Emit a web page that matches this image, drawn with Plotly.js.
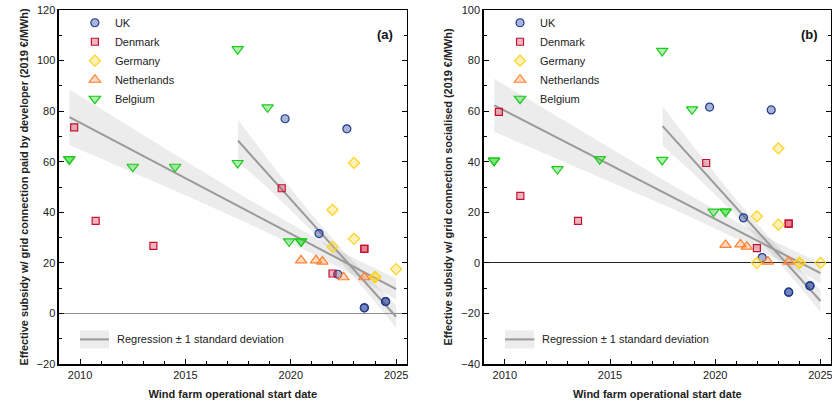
<!DOCTYPE html>
<html><head><meta charset="utf-8">
<script src="https://cdn.plot.ly/plotly-3.0.1.min.js"></script>
<style>html,body{margin:0;padding:0;background:#fff;}#chart{width:832px;height:405px;}</style>
</head><body><div id="chart"></div>
<script>
// ---- data (x = operational start year) ----
const ukX   = [2019.73, 2022.66, 2021.34, 2022.23, 2023.49, 2023.49, 2024.5, 2024.5];
const ukA   = [77, 73, 31.6, 15.5, 2.2, 2.2, 4.7, 4.7];
const ukB   = [61.6, 60.5, 17.8, 2.1, -11.6, -11.6, -9.1, -9.1];
const dkX   = [2009.72, 2010.74, 2013.48, 2019.57, 2021.98, 2023.49, 2023.49];
const dkA   = [73.6, 36.6, 26.7, 49.5, 15.8, 25.5, 25.5];
const dkB   = [59.7, 26.5, 16.6, 39.5, 5.8, 15.5, 15.5];
const deX   = [2023.0, 2021.98, 2021.98, 2023.0, 2024.0, 2024.0, 2025.0];
const deA   = [59.5, 41, 26.3, 29.5, 14.5, 14.3, 17.5];
const deB   = [45.3, 18.4, 0, 15.1, 0, 0, 0];
const nlX   = [2020.49, 2021.2, 2021.5, 2022.5, 2023.49];
const nlA   = [21, 21, 20.5, 14.3, 14.3];
const nlB   = [7.1, 7.3, 6.4, 0.5, 0.5];
const beX   = [2009.49, 2009.49, 2012.5, 2014.51, 2017.48, 2017.48, 2018.9, 2019.92, 2020.49, 2020.49];
const beA   = [61, 61, 58, 58, 104.5, 59.5, 81.5, 28.5, 28.5, 28.5];
const beB   = [40.4, 40.4, 37.1, 41, 83.8, 40.7, 60.7, 20.3, 20.3, 20.3];

// regression lines and ±1 sd bands
const longLineX  = [2009.5, 2025];
const longLineA  = [77.6, 9.6];
const longLineB  = [62.3, -4.1];
const longBandX  = [2009.5, 2012, 2015, 2018, 2021, 2023, 2025];
const longUpA    = [88.6, 75.6, 60.3, 45.1, 30.7, 21.8, 13.8];
const longLoA    = [66.6, 57.6, 46.7, 35.5, 23.7, 15.0, 5.4];
const longUpB    = [72.8, 60.3, 45.2, 30.5, 16.4, 7.8, -0.1];
const longLoB    = [51.8, 42.9, 32.2, 21.3, 9.6, 1.2, -8.1];
const shortLineX = [2017.5, 2025];
const shortLineA = [68.3, -1.3];
const shortLineB = [54.1, -15.1];
const shortBandX = [2017.5, 2019, 2021, 2022.5, 2024, 2025];
const shortUpA   = [76.6, 59.9, 39.0, 24.6, 11.5, 3.2];
const shortLoA   = [60.0, 48.9, 32.6, 19.2, 4.5, -5.8];
const shortUpB   = [61.9, 45.6, 24.9, 10.7, -2.5, -10.8];
const shortLoB   = [46.3, 35.0, 18.7, 5.3, -9.3, -19.4];

const countries = ['UK', 'Denmark', 'Germany', 'Netherlands', 'Belgium'];
const xTicks = [2010, 2015, 2020, 2025];

const FONT = 'Liberation Sans, Arial, sans-serif';
const styles = {
  UK:          {symbol: 'circle',        size: 8,  line: '#1f3b8f', fill: 'rgba(31,59,143,0.38)'},
  Denmark:     {symbol: 'square',        size: 7,  line: '#c8102e', fill: 'rgba(200,16,46,0.3)'},
  Germany:     {symbol: 'diamond',       size: 8.5, line: '#ffd21f', fill: 'rgba(255,210,20,0.3)'},
  Netherlands: {symbol: 'triangle-up',   size: 10, line: '#ff8030', fill: 'rgba(255,128,48,0.3)'},
  Belgium:     {symbol: 'triangle-down', size: 10, line: '#1ccc1c', fill: 'rgba(28,204,28,0.33)'}
};
const seriesA = {UK: [ukX, ukA], Denmark: [dkX, dkA], Germany: [deX, deA], Netherlands: [nlX, nlA], Belgium: [beX, beA]};
const seriesB = {UK: [ukX, ukB], Denmark: [dkX, dkB], Germany: [deX, deB], Netherlands: [nlX, nlB], Belgium: [beX, beB]};

function band(x, up, lo, xa, ya) {
  return {x: x.concat(x.slice().reverse()), y: up.concat(lo.slice().reverse()),
    xaxis: xa, yaxis: ya, mode: 'lines', fill: 'toself', fillcolor: 'rgba(150,150,150,0.18)',
    line: {width: 0}, hoverinfo: 'skip', showlegend: false};
}
function rline(x, y, xa, ya) {
  return {x: x, y: y, xaxis: xa, yaxis: ya, mode: 'lines',
    line: {color: '#9a9a9a', width: 2}, hoverinfo: 'skip', showlegend: false};
}

const traces = [
  band(longBandX, longUpA, longLoA, 'x', 'y'), band(shortBandX, shortUpA, shortLoA, 'x', 'y'),
  rline(longLineX, longLineA, 'x', 'y'), rline(shortLineX, shortLineA, 'x', 'y'),
  band(longBandX, longUpB, longLoB, 'x2', 'y2'), band(shortBandX, shortUpB, shortLoB, 'x2', 'y2'),
  rline(longLineX, longLineB, 'x2', 'y2'), rline(shortLineX, shortLineB, 'x2', 'y2')
];
countries.forEach(c => {
  const s = styles[c];
  traces.push({x: seriesA[c][0], y: seriesA[c][1], xaxis: 'x', yaxis: 'y', mode: 'markers', name: c,
    legend: 'legend',
    marker: {symbol: s.symbol, size: s.size, color: s.fill, line: {color: s.line, width: 1.2}}});
});
countries.forEach(c => {
  const s = styles[c];
  traces.push({x: seriesB[c][0], y: seriesB[c][1], xaxis: 'x2', yaxis: 'y2', mode: 'markers', name: c,
    legend: 'legend2',
    marker: {symbol: s.symbol, size: s.size, color: s.fill, line: {color: s.line, width: 1.2}}});
});

function xax(domain, anchor) {
  return {domain: domain, anchor: anchor, range: [2009, 2025.5], tickvals: xTicks, ticktext: xTicks.map(String),
    ticks: 'inside', ticklen: 5, tickcolor: '#000', showline: true, linecolor: '#000', linewidth: 1.5,
    mirror: true, showgrid: false, zeroline: false, ticklabeloverflow: 'allow',
    minor: {dtick: 1, tick0: 2009, ticks: 'inside', ticklen: 3, tickcolor: '#000', showgrid: false},
    tickfont: {family: FONT, size: 11, color: '#222'},
    title: {text: 'Wind farm operational start date', standoff: 10,
            font: {family: FONT, size: 11, color: '#222', weight: 700}}};
}
function yax(domain, anchor, range, zc, zw, title) {
  return {domain: domain, anchor: anchor, range: range, dtick: 20, tick0: 0,
    ticks: 'inside', ticklen: 5, tickcolor: '#000', showline: true, linecolor: '#000', linewidth: 1.5,
    mirror: 'ticks', showgrid: false, zeroline: true, zerolinecolor: zc, zerolinewidth: zw,
    minor: {dtick: 10, ticks: 'inside', ticklen: 3, tickcolor: '#000', showgrid: false},
    tickfont: {family: FONT, size: 11, color: '#222'},
    title: {text: title, standoff: 6, font: {family: FONT, size: 10.9, color: '#222', weight: 700}}};
}

const legStyle = {font: {family: FONT, size: 11, color: '#222'}, bgcolor: 'rgba(0,0,0,0)',
  borderwidth: 0, xanchor: 'left', yanchor: 'top', yref: 'paper', xref: 'paper', tracegroupgap: 0};

const layout = {
  width: 832, height: 405, paper_bgcolor: '#fff', plot_bgcolor: '#fff',
  margin: {l: 0, r: 0, t: 10, b: 41},
  font: {family: FONT},
  xaxis: xax([0.0709, 0.4888], 'y'),
  yaxis: yax([0, 1], 'x', [-20, 120], '#8c8c8c', 1.5,
    'Effective subsidy w/ grid connection paid by developer (2019 €/MWh)'),
  xaxis2: xax([0.5814, 0.9988], 'y2'),
  yaxis2: yax([0, 1], 'x2', [-40, 100], '#222', 1,
    'Effective subsidy w/ grid connection socialised (2019 €/MWh)'),
  legend: Object.assign({}, legStyle, {x: 0.09, y: 1.005}),
  legend2: Object.assign({}, legStyle, {x: 0.601, y: 1.005}),
  annotations: [
    {xref: 'paper', yref: 'paper', x: 0.475, y: 0.93, text: '(a)', showarrow: false, xanchor: 'right',
     yanchor: 'middle', font: {family: FONT, size: 13, color: '#111', weight: 700}},
    {xref: 'paper', yref: 'paper', x: 0.985, y: 0.93, text: '(b)', showarrow: false, xanchor: 'right',
     yanchor: 'middle', font: {family: FONT, size: 13, color: '#111', weight: 700}},
    {xref: 'paper', yref: 'paper', x: 0.1382, y: 0.072, text: 'Regression ± 1 standard deviation', showarrow: false,
     xanchor: 'left', yanchor: 'middle', font: {family: FONT, size: 11, color: '#222'}},
    {xref: 'paper', yref: 'paper', x: 0.649, y: 0.072, text: 'Regression ± 1 standard deviation', showarrow: false,
     xanchor: 'left', yanchor: 'middle', font: {family: FONT, size: 11, color: '#222'}}
  ],
  shapes: [
    {type: 'rect', xref: 'paper', yref: 'paper', x0: 0.0962, x1: 0.131, y0: 0.044, y1: 0.095,
     fillcolor: 'rgba(150,150,150,0.18)', line: {width: 0}},
    {type: 'line', xref: 'paper', yref: 'paper', x0: 0.0962, x1: 0.131, y0: 0.0695, y1: 0.0695,
     line: {color: '#9a9a9a', width: 2}},
    {type: 'rect', xref: 'paper', yref: 'paper', x0: 0.607, x1: 0.6422, y0: 0.044, y1: 0.095,
     fillcolor: 'rgba(150,150,150,0.18)', line: {width: 0}},
    {type: 'line', xref: 'paper', yref: 'paper', x0: 0.607, x1: 0.6422, y0: 0.0695, y1: 0.0695,
     line: {color: '#9a9a9a', width: 2}}
  ]
};

Plotly.newPlot('chart', traces, layout, {displayModeBar: false, staticPlot: true});
</script></body></html>
